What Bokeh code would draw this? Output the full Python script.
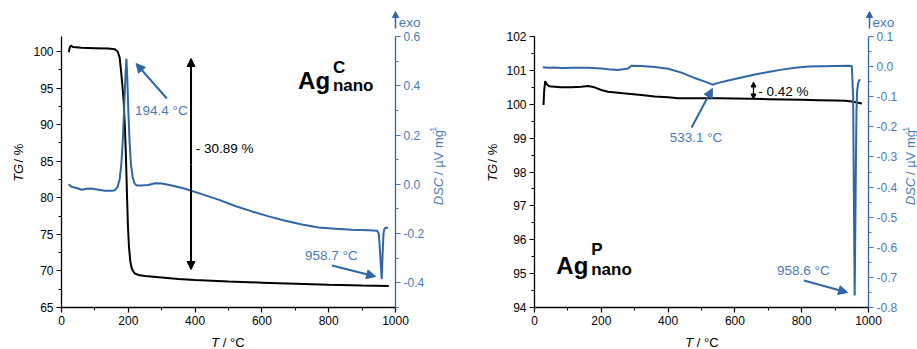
from math import pi

from bokeh.plotting import figure
from bokeh.layouts import row, column
from bokeh.models import (Range1d, LinearAxis, FixedTicker, Label, Arrow,
                          NormalHead, NumeralTickFormatter)
from bokeh.embed import file_html
from bokeh.resources import INLINE

FONT = "Liberation Sans"
BLUE_LINE = "#2f66a5"
BLUE_TEXT = "#4a7bb7"

# ---------------- Ag_nano^C ----------------
t_tg_c = [22, 25, 28, 35, 60, 100, 140, 160, 168, 174, 178, 182, 186, 190, 193,
          196, 199, 202, 206, 210, 215, 220, 230, 250, 300, 350, 400, 500, 600,
          700, 800, 900, 980]
tg_c = [99.9, 100.6, 100.8, 100.6, 100.5, 100.45, 100.4, 100.3, 100.0, 99.2,
        97.5, 95.5, 93.3, 89.5, 85.5, 80.5, 76.0, 73.3, 71.3, 70.4, 69.9, 69.65,
        69.45, 69.3, 69.1, 68.9, 68.75, 68.55, 68.4, 68.25, 68.1, 68.0, 67.95]

t_dsc_c = [21, 30, 45, 60, 75, 90, 110, 130, 150, 160, 168, 174, 179, 184, 188,
           191, 194.4, 197, 200, 204, 208, 213, 218, 225, 240, 260, 280, 300,
           330, 370, 420, 470, 520, 570, 620, 670, 720, 770, 820, 870, 920, 945,
           950, 954, 958.7, 961, 964, 967, 972, 978]
dsc_c = [0.0, -0.01, -0.015, -0.022, -0.018, -0.017, -0.022, -0.026, -0.026,
         -0.024, -0.01, 0.02, 0.08, 0.19, 0.32, 0.43, 0.51, 0.43, 0.3, 0.17,
         0.08, 0.03, 0.005, -0.005, -0.005, -0.003, 0.004, 0.003, -0.005,
         -0.018, -0.04, -0.062, -0.088, -0.11, -0.13, -0.148, -0.163, -0.175,
         -0.18, -0.184, -0.186, -0.188, -0.2, -0.28, -0.385, -0.3, -0.2, -0.18,
         -0.175, -0.178]

# ---------------- Ag_nano^P ----------------
t_tg_p = [27, 29, 32, 36, 44, 60, 80, 110, 140, 160, 180, 200, 220, 250, 280,
          320, 360, 400, 430, 460, 500, 550, 600, 650, 700, 750, 800, 850, 900,
          930, 950, 965, 980]
tg_p = [99.98, 100.4, 100.68, 100.6, 100.53, 100.52, 100.5, 100.5, 100.52,
        100.54, 100.5, 100.42, 100.37, 100.34, 100.31, 100.27, 100.23, 100.21,
        100.18, 100.18, 100.18, 100.18, 100.17, 100.16, 100.15, 100.14, 100.13,
        100.12, 100.11, 100.10, 100.08, 100.05, 100.02]

t_dsc_p = [25, 40, 60, 80, 120, 160, 200, 230, 250, 270, 280, 290, 320, 360,
           400, 440, 480, 510, 533.1, 550, 580, 620, 660, 700, 740, 780, 820,
           860, 900, 940, 950, 954, 956, 958.6, 960, 962, 964, 966, 969, 972, 976]
dsc_p = [-0.002, -0.004, -0.003, -0.005, -0.004, -0.004, -0.006, -0.01, -0.011,
         -0.008, -0.006, 0.003, 0.002, -0.001, -0.007, -0.02, -0.038, -0.05,
         -0.06, -0.054, -0.046, -0.036, -0.026, -0.018, -0.01, -0.004, 0.0,
         0.001, 0.002, 0.003, 0.002, -0.1, -0.4, -0.76, -0.6, -0.35, -0.15,
         -0.08, -0.055, -0.045, -0.044]

x_ticks = [0, 200, 400, 600, 800, 1000]
x_minor = [100, 300, 500, 700, 900]
tg_ticks_c = [65, 70, 75, 80, 85, 90, 95, 100]
tg_minor_c = [67.5, 72.5, 77.5, 82.5, 87.5, 92.5, 97.5]
dsc_ticks_c = [-0.4, -0.2, 0.0, 0.2, 0.4, 0.6]
dsc_minor_c = [-0.5, -0.3, -0.1, 0.1, 0.3, 0.5]
tg_ticks_p = [94, 95, 96, 97, 98, 99, 100, 101, 102]
tg_minor_p = [94.5, 95.5, 96.5, 97.5, 98.5, 99.5, 100.5, 101.5]
dsc_ticks_p = [-0.8, -0.7, -0.6, -0.5, -0.4, -0.3, -0.2, -0.1, 0.0, 0.1]
dsc_minor_p = [-0.75, -0.65, -0.55, -0.45, -0.35, -0.25, -0.15, -0.05, 0.05]

# plot frame geometry (window pixels)
FRAME_W, FRAME_H, FRAME_TOP = 336, 271, 36
TOP_H, MAIN_H, BOT_H = 30, 302, 17          # rows: marker strip / plot / x label
EM = 13.0                                    # axis title font size (px)
SPACE = 0.278 * EM                           # width of a space in that font


def style_axis(ax, color, ticks, minor, fmt):
    ax.ticker = FixedTicker(ticks=ticks, minor_ticks=minor)
    ax.formatter = NumeralTickFormatter(format=fmt)
    ax.axis_line_color = color
    ax.axis_line_width = 1.3
    ax.major_tick_line_color = color
    ax.minor_tick_line_color = color
    ax.major_tick_line_width = 1.2
    ax.minor_tick_line_width = 1.0
    ax.major_tick_in = 0
    ax.major_tick_out = 5
    ax.minor_tick_in = 0
    ax.minor_tick_out = 3
    ax.major_label_text_font = FONT
    ax.major_label_text_font_size = "12px"
    ax.major_label_text_color = color
    ax.major_label_standoff = 3


class Strip:
    """A bare figure used as a canvas for titles, addressed in window pixels."""

    def __init__(self, ox, oy, w, h):
        self.ox, self.oy, self.w, self.h = ox, oy, w, h
        self.fig = figure(width=w, height=h, x_range=Range1d(0, w),
                          y_range=Range1d(0, h), output_backend="svg",
                          toolbar_location=None, min_border=0,
                          x_axis_type=None, y_axis_type=None)
        self.fig.outline_line_color = None
        self.fig.border_fill_color = "white"
        self.fig.background_fill_color = "white"

    def dx(self, px):
        return px - self.ox

    def dy(self, py):
        return self.h - (py - self.oy)


def text(p, dx, dy, px, py, s, size="13px", color="black", style="normal",
         align="left", baseline="middle", angle=0.0):
    p.add_layout(Label(x=dx(px), y=dy(py), text=s, text_font=FONT,
                       text_font_size=size, text_color=color,
                       text_font_style=style, text_align=align,
                       text_baseline=baseline, angle=angle))


def arrow(p, dx, dy, x0, y0, x1, y1, color, size=9, width=2):
    head = NormalHead(size=size, fill_color=color, line_color=color, line_width=1)
    p.add_layout(Arrow(x_start=dx(x0), y_start=dy(y0), x_end=dx(x1),
                       y_end=dy(y1), end=head, start=None, line_color=color,
                       line_width=width))


def make_panel(x_off, width, left_strip_w, right_strip_w, frame_left,
               tg_range, dsc_range, tg_ticks, tg_minor, dsc_ticks, dsc_minor,
               t_tg, tg, t_dsc, dsc, tg_cx, x_cx, dsc_cx, exo_left):
    main_w = width - left_strip_w - right_strip_w
    main_x = x_off + left_strip_w
    bl = frame_left - main_x
    br = main_w - bl - FRAME_W
    bt = FRAME_TOP - TOP_H
    bb = MAIN_H - bt - FRAME_H
    p = figure(width=main_w, height=MAIN_H, x_range=Range1d(0, 1000),
               y_range=Range1d(*tg_range), output_backend="svg",
               toolbar_location=None, min_border_left=bl, min_border_right=br,
               min_border_top=bt, min_border_bottom=bb)
    p.extra_y_ranges = {"dsc": Range1d(*dsc_range)}
    p.outline_line_color = None
    p.xgrid.visible = False
    p.ygrid.visible = False
    p.background_fill_color = "white"
    p.border_fill_color = "white"

    style_axis(p.xaxis[0], "black", x_ticks, x_minor, "0")
    style_axis(p.yaxis[0], "black", tg_ticks, tg_minor, "0")
    ax2 = LinearAxis(y_range_name="dsc")
    style_axis(ax2, BLUE_TEXT, dsc_ticks, dsc_minor, "0.0")
    ax2.axis_line_color = BLUE_LINE
    p.add_layout(ax2, "right")

    p.line(t_tg, tg, line_color="black", line_width=2)
    p.line(t_dsc, dsc, line_color=BLUE_LINE, line_width=2, y_range_name="dsc")

    y0, y1 = tg_range

    def dx(px):
        return (px - frame_left) / FRAME_W * 1000.0

    def dy(py):
        return y0 + (FRAME_TOP + FRAME_H - py) / FRAME_H * (y1 - y0)

    # strips around the plot that carry the axis titles
    top = Strip(x_off, 0, width, TOP_H)
    lft = Strip(x_off, TOP_H, left_strip_w, MAIN_H)
    rgt = Strip(x_off + width - right_strip_w, TOP_H, right_strip_w, MAIN_H)
    bot = Strip(x_off, TOP_H + MAIN_H, width, BOT_H)

    # TG / %   (rotated; italic quantity symbol, upright unit)
    tg_w = 1.389 * EM
    text(lft.fig, lft.dx, lft.dy, tg_cx, 192, "TG", style="italic", angle=pi / 2)
    text(lft.fig, lft.dx, lft.dy, tg_cx, 192 - tg_w - SPACE, "/ %", angle=pi / 2)
    # T / °C
    t_w = 0.611 * EM
    x_start = x_cx - 16.7
    text(bot.fig, bot.dx, bot.dy, x_start, 342, "T", style="italic")
    text(bot.fig, bot.dx, bot.dy, x_start + t_w + SPACE, 342, "/ °C")
    # DSC / µV mg-1
    dsc_w = 2.111 * EM + 2.5
    unit_w = 3.466 * EM
    y_dsc = 218
    text(rgt.fig, rgt.dx, rgt.dy, dsc_cx, y_dsc, "DSC", color=BLUE_TEXT,
         style="italic", angle=pi / 2)
    text(rgt.fig, rgt.dx, rgt.dy, dsc_cx, y_dsc - dsc_w - SPACE, "/ µV mg",
         color=BLUE_TEXT, angle=pi / 2)
    text(rgt.fig, rgt.dx, rgt.dy, dsc_cx - 5, y_dsc - dsc_w - SPACE - unit_w,
         "-1", size="9px", color=BLUE_TEXT, angle=pi / 2)
    # exo direction marker above the DSC axis
    arrow(top.fig, top.dx, top.dy, frame_left + FRAME_W, 28,
          frame_left + FRAME_W, 11, BLUE_LINE, size=6, width=1.5)
    text(top.fig, top.dx, top.dy, exo_left, 21.5, "exo", size="13.5px",
         color=BLUE_TEXT)

    layout = column(top.fig, row(lft.fig, p, rgt.fig), bot.fig)
    return p, dx, dy, layout


def sample_name(p, dx, dy, left, base, sup, sub_base, sup_base):
    text(p, dx, dy, left, base, "Ag", size="24px", style="bold",
         baseline="alphabetic")
    text(p, dx, dy, left + 35, sup_base, sup, size="17px", style="bold",
         baseline="alphabetic")
    text(p, dx, dy, left + 35, sub_base, "nano", size="17px", style="bold",
         baseline="alphabetic")


# left panel: Ag_nano^C
p1, dx1, dy1, lay1 = make_panel(
    0, 460, 30, 33, 59, (65, 65 + FRAME_H * 35 / 256), (-0.5, 0.6),
    tg_ticks_c, tg_minor_c, dsc_ticks_c, dsc_minor_c,
    t_tg_c, tg_c, t_dsc_c, dsc_c, 17.5, 227.5, 437.5, 398.3)
sample_name(p1, dx1, dy1, 297, 80, "C", 85, 67)
text(p1, dx1, dy1, 133, 110, "194.4 °C", size="13.5px", color=BLUE_TEXT)
arrow(p1, dx1, dy1, 165, 98, 134, 63, BLUE_LINE)
arrow(p1, dx1, dy1, 189.3, 164, 189.3, 58, "black", size=8)
arrow(p1, dx1, dy1, 189.3, 164, 189.3, 269, "black", size=8)
text(p1, dx1, dy1, 194, 148, "- 30.89 %", size="13.5px")
text(p1, dx1, dy1, 304, 255, "958.7 °C", size="13.5px", color=BLUE_TEXT)
arrow(p1, dx1, dy1, 331, 265, 375, 276, BLUE_LINE)

# right panel: Ag_nano^P
p2, dx2, dy2, lay2 = make_panel(
    460, 457, 43, 17, 533, (94, 102), (-0.8, 0.1),
    tg_ticks_p, tg_minor_p, dsc_ticks_p, dsc_minor_p,
    t_tg_p, tg_p, t_dsc_p, dsc_p, 491.7, 701.5, 910, 872)
sample_name(p2, dx2, dy2, 555, 265, "P", 269, 249)
text(p2, dx2, dy2, 669, 137, "533.1 °C", size="13.5px", color=BLUE_TEXT)
arrow(p2, dx2, dy2, 691, 127, 712, 88, BLUE_LINE)
arrow(p2, dx2, dy2, 753.3, 90, 753.3, 81.5, "black", size=5, width=1.3)
arrow(p2, dx2, dy2, 753.3, 90, 753.3, 98.5, "black", size=5, width=1.3)
text(p2, dx2, dy2, 758, 90.5, "- 0.42 %", size="13.5px")
text(p2, dx2, dy2, 777, 270, "958.6 °C", size="13.5px", color=BLUE_TEXT)
arrow(p2, dx2, dy2, 804, 280, 848, 292, BLUE_LINE)

layout = row(lay1, lay2)
open("out.html", "w").write(file_html(layout, INLINE))
